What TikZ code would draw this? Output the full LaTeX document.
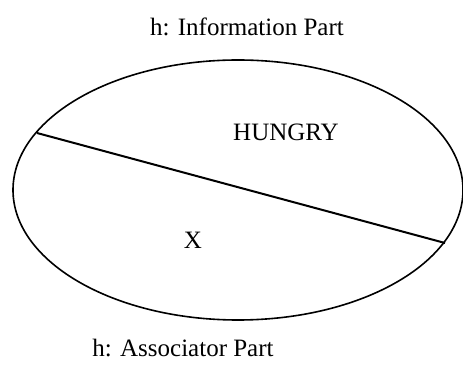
\documentclass[tikz,border=0pt]{standalone}
\usepackage{fontspec}
\setmainfont{Liberation Serif}
\usetikzlibrary{shapes.geometric, positioning}

\begin{document}
\begin{tikzpicture}[
    x=1pt, y=1pt,
    part/.style={font=\fontsize{25}{30}\selectfont, inner sep=0pt},
    frame/.style={ellipse, draw, line width=1.6pt, minimum width=450pt, minimum height=260pt, inner sep=0pt, outer sep=0pt},
    divider/.style={draw, line width=2pt}
]
\useasboundingbox (0,0) rectangle (463,364);

\node [frame] (agent) at (238,174) {};

\coordinate (cutleft) at (37,231);
\coordinate (cutright) at (445,121);
\path [divider] (cutleft) -- (cutright);

\node [part] (info) at (247,337) {h: Information Part};
\node [part] (hungry) at (286,232) {HUNGRY};
\node [part] (x) at (193,124) {X};
\node [part] (assoc) at (183,16) {h: Associator Part};

\end{tikzpicture}
\end{document}
